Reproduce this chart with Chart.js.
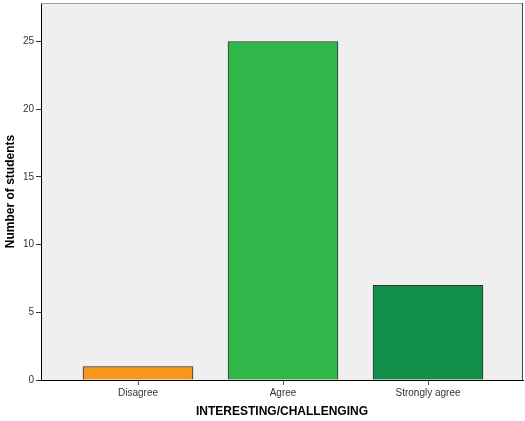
<!DOCTYPE html>
<html>
<head>
<meta charset="utf-8">
<script src="https://cdn.jsdelivr.net/npm/chart.js@4"></script>
<style>
html,body{margin:0;padding:0;background:#fff;}
#wrap{width:525px;height:421px;}
</style>
</head>
<body>
<div id="wrap"><canvas id="c" width="525" height="421"></canvas></div>
<script>
const categories = ["Disagree", "Agree", "Strongly agree"];
const values = [1, 25, 7];
const barColors = ["#F7981D", "#2FB74A", "#118E4A"];
const yTicks = [0, 5, 10, 15, 20, 25];

const plotBg = {
  id: 'plotBg',
  beforeDraw(chart) {
    const {ctx, chartArea: a} = chart;
    ctx.save();
    ctx.fillStyle = '#EFEFEF';
    ctx.fillRect(a.left, a.top, a.right - a.left, a.bottom - a.top);
    ctx.restore();
  },
  afterDraw(chart) {
    const {ctx, chartArea: a} = chart;
    ctx.save();
    ctx.lineWidth = 1;
    ctx.strokeStyle = '#9A9A9A';
    ctx.beginPath();
    ctx.moveTo(a.left, a.top + 0.5);
    ctx.lineTo(a.right, a.top + 0.5);
    ctx.stroke();
    ctx.strokeStyle = '#444444';
    ctx.beginPath();
    ctx.moveTo(a.right - 0.5, a.top);
    ctx.lineTo(a.right - 0.5, a.bottom);
    ctx.stroke();
    ctx.restore();
  }
};

new Chart(document.getElementById('c'), {
  type: 'bar',
  data: {
    datasets: [{
      data: values.map((v, i) => ({x: i + 1, y: v})),
      backgroundColor: barColors,
      borderColor: '#333333',
      borderWidth: 1,
      barThickness: 110
    }]
  },
  options: {
    responsive: false,
    animation: false,
    devicePixelRatio: 1,
    layout: {padding: {top: 3, right: 2, left: 0, bottom: 0}},
    plugins: {legend: {display: false}, tooltip: {enabled: false}},
    scales: {
      x: {
        type: 'linear',
        min: 0.331,
        max: 3.655,
        offset: false,
        afterBuildTicks(s) { s.ticks = categories.map((c, i) => ({value: i + 1})); },
        afterFit(s) { s.height = 41; s.paddingLeft = 0; s.paddingRight = 0; },
        ticks: {
          callback: (v) => categories[v - 1] || '',
          font: {family: 'Liberation Sans, Arial', size: 10},
          color: '#333',
          padding: 2,
          maxRotation: 0,
          autoSkip: false
        },
        grid: {drawOnChartArea: false, drawTicks: true, tickLength: 5, color: '#555', offset: false},
        border: {display: true, color: '#000', width: 1},
        title: {
          display: true,
          text: 'INTERESTING/CHALLENGING',
          font: {family: 'Liberation Sans, Arial', size: 12, weight: 'bold'},
          color: '#000',
          padding: {top: 0, bottom: 2}
        }
      },
      y: {
        min: 0,
        max: 27.84,
        afterBuildTicks(s) { s.ticks = yTicks.map(v => ({value: v})); },
        afterFit(s) { s.width = 41; s.paddingTop = 0; s.paddingBottom = 0; },
        ticks: {
          font: {family: 'Liberation Sans, Arial', size: 10},
          color: '#333',
          padding: 2
        },
        grid: {drawOnChartArea: false, drawTicks: true, tickLength: 5, color: '#333'},
        border: {display: true, color: '#000', width: 1},
        title: {
          display: true,
          text: 'Number of students',
          font: {family: 'Liberation Sans, Arial', size: 12, weight: 'bold'},
          color: '#000',
          padding: {top: 3, bottom: 0}
        }
      }
    }
  },
  plugins: [plotBg]
});
</script>
</body>
</html>
